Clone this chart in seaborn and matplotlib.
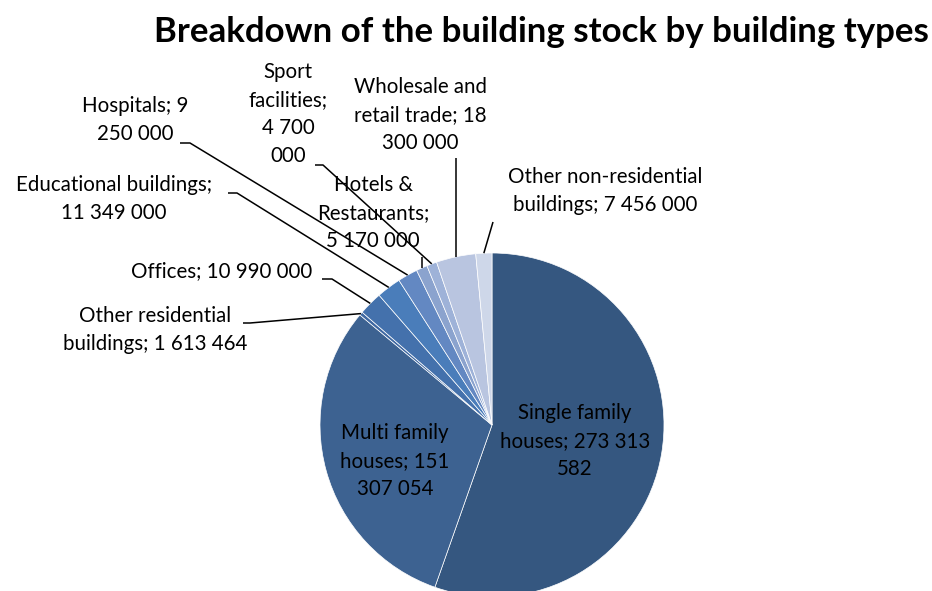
import matplotlib
matplotlib.use("Agg")
import numpy as np
import matplotlib.pyplot as plt
import seaborn as sns

# datos del grafico
categories = ["Single family houses", "Multi family houses", "Other residential buildings",
              "Offices", "Educational buildings", "Hospitals", "Hotels & Restaurants",
              "Sport facilities", "Wholesale and retail trade", "Other non-residential buildings"]
values = [273313582, 151307054, 1613464, 10990000, 11349000, 9250000, 5170000, 4700000,
          18300000, 7456000]
label_texts = ["Single family\nhouses; 273 313\n582",
               "Multi family\nhouses; 151\n307 054",
               "Other residential\nbuildings; 1 613 464",
               "Offices; 10 990 000",
               "Educational buildings;\n11 349 000",
               "Hospitals; 9\n250 000",
               "Hotels &\nRestaurants;\n5 170 000",
               "Sport\nfacilities;\n4 700\n000",
               "Wholesale and\nretail trade; 18\n300 000",
               "Other non-residential\nbuildings; 7 456 000"]
colors = ["#355780", "#3D6291", "#3F68A2", "#4471AC", "#4A7DBA", "#6388C2",
          "#8BA3CE", "#9EB2D8", "#B9C5E0", "#CED7E9"]

sns.set_theme(style="white")
plt.rcParams['font.family'] = ['Lato', 'DejaVu Sans']

W, H = 932, 591
cx, cy, R = 492, 425, 172

fig = plt.figure(figsize=(W/100, H/100), dpi=100)
ax = fig.add_axes([0, 0, 1, 1])
wedges, _ = ax.pie(values, colors=colors, startangle=90, counterclock=False,
                   radius=1, center=(0, 0),
                   wedgeprops=dict(edgecolor='white', linewidth=0.5))
ax.set_xlim(-cx/R, (W-cx)/R)
ax.set_ylim(-(H-cy)/R, cy/R)
ax.set_aspect('equal')
ax.axis('off')

def px(x, y):
    return ((x-cx)/R, (cy-y)/R)

# posicion del texto (pixeles) y punto de inicio de la linea guia
text_pos = [(575, 441), (395, 461), (155, 330), (222, 271), (114, 199),
            (135, 120), (373, 213), (288, 114), (420, 115), (605, 191)]
leaders = [None, None,
           [(243, 323), (250, 323)],
           [(322, 279), (332, 279)],
           [(228, 193), (237, 193)],
           [(180, 143), (190, 143)],
           "vert257",
           [(315, 165), (323, 165)],
           "vert158",
           [(493, 222)]]

for i, w in enumerate(wedges):
    ax.text(*px(*text_pos[i]), label_texts[i], ha='center', va='center',
            fontsize=14.8, color='black', linespacing=1.52)
    ld = leaders[i]
    if ld is None:
        continue
    mid = np.deg2rad((w.theta1 + w.theta2) / 2)
    end = (np.cos(mid), np.sin(mid))
    if isinstance(ld, str):
        y0 = int(ld[4:])
        pts = [(end[0], (cy - y0)/R), end]
    else:
        pts = [px(*p) for p in ld] + [end]
    xs, ys = zip(*pts)
    ax.plot(xs, ys, color='black', linewidth=1.1, solid_capstyle='butt')

fig.text(541/W, 1-32/H, "Breakdown of the building stock by building types",
         ha='center', va='center', fontsize=25.1, fontweight='bold', color='black')

fig.savefig("out.png", dpi=100, facecolor='white')
